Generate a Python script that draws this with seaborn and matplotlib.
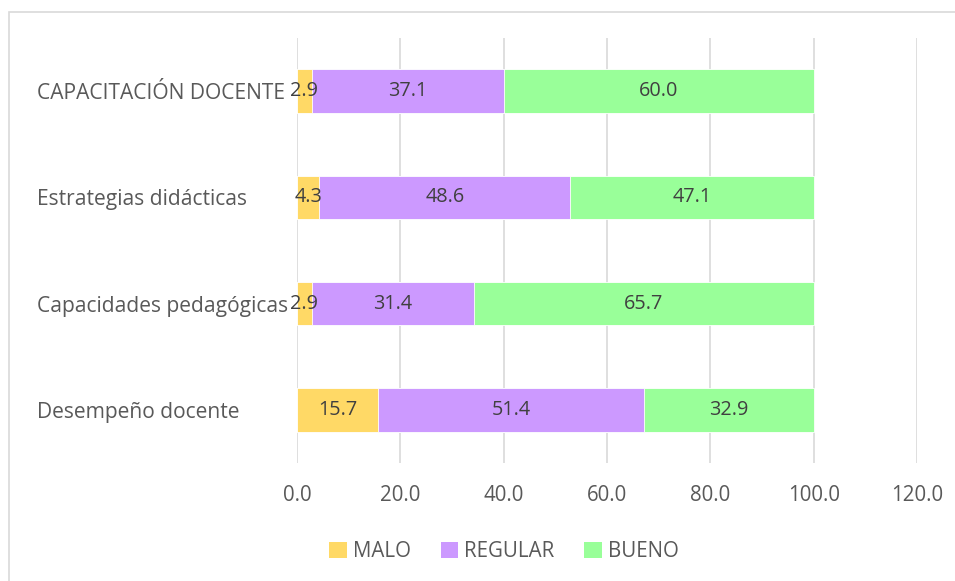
import matplotlib
matplotlib.use("Agg")
import matplotlib.pyplot as plt
import seaborn as sns
import pandas as pd
import numpy as np
from matplotlib.patches import Rectangle, Patch

categories = ["CAPACITACIÓN DOCENTE", "Estrategias didácticas",
              "Capacidades pedagógicas", "Desempeño docente"]
series_names = ["MALO", "REGULAR", "BUENO"]
malo = [2.9, 4.3, 2.9, 15.7]
regular = [37.1, 48.6, 31.4, 51.4]
bueno = [60.0, 47.1, 65.7, 32.9]
x_ticks = [0, 20, 40, 60, 80, 100, 120]

colors = {"MALO": "#FFD966", "REGULAR": "#CC99FF", "BUENO": "#99FF99"}
text_color = "#595959"
label_color = "#404040"
grid_color = "#D9D9D9"

sns.set_theme(style="white")
plt.rcParams["font.family"] = ["Open Sans", "DejaVu Sans"]

df = pd.DataFrame({"cat": categories, "MALO": malo, "REGULAR": regular, "BUENO": bueno})
df["c1"] = df["MALO"]
df["c2"] = df["MALO"] + df["REGULAR"]
df["c3"] = df["c2"] + df["BUENO"]

fig = plt.figure(figsize=(9.55, 5.81), dpi=100)
ax = fig.add_axes([297/955, 1 - 463/581, (917-297)/955, (463-38)/581])

bw = 0.41
for col, name in [("c3", "BUENO"), ("c2", "REGULAR"), ("c1", "MALO")]:
    sns.barplot(data=df, x=col, y="cat", orient="h", color=colors[name],
                width=bw, ax=ax, saturation=1, edgecolor="white", linewidth=0.6,
                zorder=3)

# data labels
for i, cat in enumerate(categories):
    starts = [0, malo[i], malo[i] + regular[i]]
    vals = [malo[i], regular[i], bueno[i]]
    for s, v in zip(starts, vals):
        ax.text(s + v / 2, i, f"{v:.1f}", ha="center", va="center",
                fontsize=14.3, color=label_color, zorder=5)

ax.set_xlim(0, 120)
ax.set_ylim(3.5, -0.5)
ax.set_xticks(x_ticks)
ax.set_xticklabels([f"{t:.1f}" for t in x_ticks])
ax.xaxis.grid(True, color=grid_color, linewidth=1.2, zorder=0)
ax.set_axisbelow(True)
ax.set_xlabel("")
ax.set_ylabel("")
for sp in ax.spines.values():
    sp.set_visible(False)
ax.tick_params(axis="x", length=0, pad=15.5, labelsize=14.8, labelcolor=text_color)
ax.tick_params(axis="y", length=0, pad=(297 - 37) * 72 / 100, labelsize=15.1,
               labelcolor=text_color)
for lab in ax.get_yticklabels():
    lab.set_ha("left")

handles = [Patch(facecolor=colors[n], edgecolor="none", label=n) for n in series_names]
fig.legend(handles=handles, loc="center", bbox_to_anchor=(504/955, 1 - 551.5/581),
           ncol=3, frameon=False, fontsize=14.8, handlelength=0.85, handleheight=0.85,
           handletextpad=0.3, columnspacing=1.45, labelcolor=text_color)

fig.patches.append(Rectangle((9/955, -0.1), 1.2, 1 - 12.5/581 + 0.1,
                             transform=fig.transFigure, fill=False,
                             edgecolor="#D9D9D9", linewidth=1.2))

fig.savefig("out.png", dpi=100)
